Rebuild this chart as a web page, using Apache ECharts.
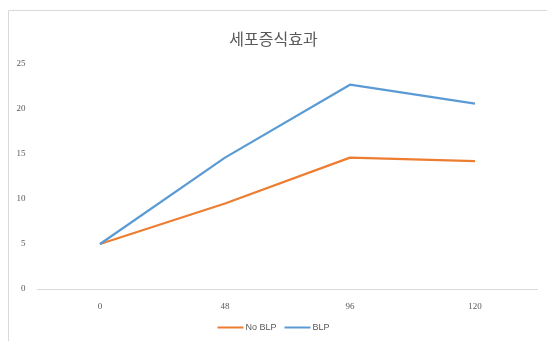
<!DOCTYPE html>
<html>
<head>
<meta charset="utf-8">
<script src="https://cdn.jsdelivr.net/npm/echarts@6/dist/echarts.min.js"></script>
<style>
  html, body { margin: 0; padding: 0; background: #fff; }
  #chart { width: 547px; height: 341px; }
</style>
</head>
<body>
<div id="chart"></div>
<script>
// Cell proliferation over time (hours)
const categories = ['0', '48', '96', '120'];
const noBLP = [5, 9.5, 14.6, 14.2];
const blp = [5, 14.6, 22.7, 20.6];
const yTicks = { min: 0, max: 25, interval: 5 };

const chart = echarts.init(document.getElementById('chart'));
chart.setOption({
  animation: false,
  backgroundColor: '#fff',
  graphic: [{
    type: 'rect',
    left: 6, top: 8,
    shape: { width: 600, height: 400 },
    style: { fill: 'none', stroke: '#d9d9d9', lineWidth: 1 },
    silent: true, z: -1
  }],
  title: {
    text: '세포증식효과',
    left: 'center',
    top: 26,
    textStyle: { fontFamily: 'Noto Sans CJK KR', fontSize: 16, fontWeight: 'normal', color: '#595959' }
  },
  legend: {
    bottom: 4,
    left: 'center',
    itemWidth: 26,
    itemHeight: 2,
    itemGap: 8,
    icon: 'rect',
    textStyle: { fontFamily: 'Liberation Sans', fontSize: 9, color: '#595959', padding: [0, 0, 0, -3] },
    data: ['No BLP', 'BLP']
  },
  grid: { left: 37.5, right: 9.5, top: 64, bottom: 52, containLabel: false },
  xAxis: {
    type: 'category',
    data: categories,
    boundaryGap: true,
    axisLine: { lineStyle: { color: '#d9d9d9', width: 1 } },
    axisTick: { show: false },
    axisLabel: { fontFamily: 'Liberation Serif', fontSize: 9, color: '#595959', margin: 13 }
  },
  yAxis: {
    type: 'value',
    min: yTicks.min, max: yTicks.max, interval: yTicks.interval,
    axisLine: { show: false },
    axisTick: { show: false },
    splitLine: { show: false },
    axisLabel: { fontFamily: 'Liberation Serif', fontSize: 9, color: '#595959', margin: 12 }
  },
  series: [
    {
      name: 'No BLP', type: 'line', data: noBLP,
      symbol: 'none',
      lineStyle: { color: '#ED7D31', width: 2.25 },
      itemStyle: { color: '#ED7D31' }
    },
    {
      name: 'BLP', type: 'line', data: blp,
      symbol: 'none',
      lineStyle: { color: '#5B9BD5', width: 2.25 },
      itemStyle: { color: '#5B9BD5' }
    }
  ]
});
</script>
</body>
</html>
